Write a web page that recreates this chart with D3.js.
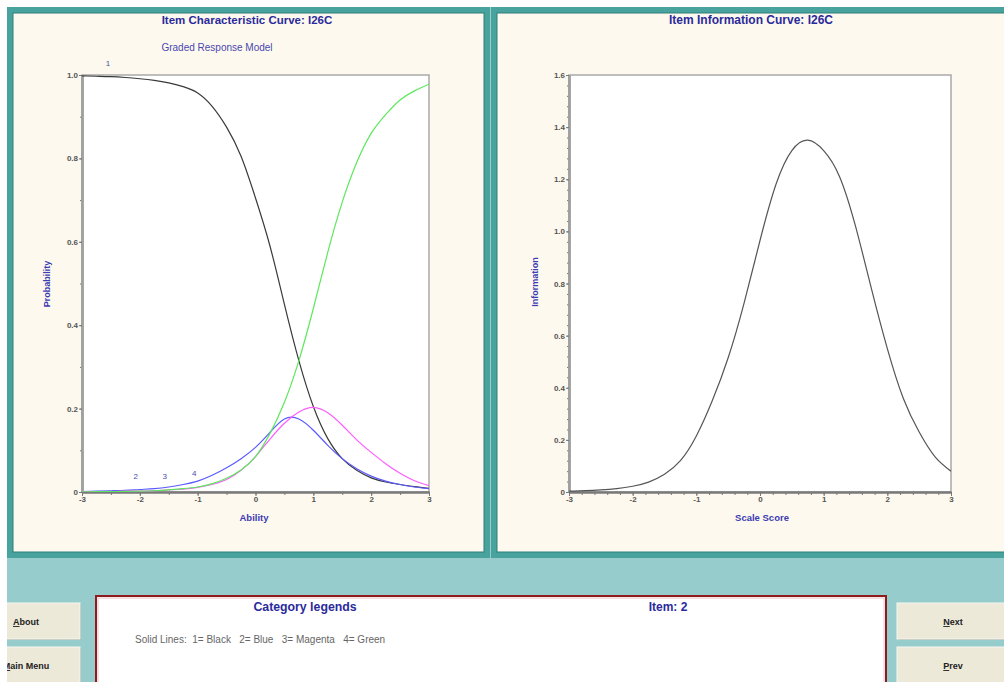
<!DOCTYPE html>
<html>
<head>
<meta charset="utf-8">
<script src="https://cdn.jsdelivr.net/npm/d3@7"></script>
<style>
body { margin: 0; background: #ffffff; overflow: hidden; }
svg { display: block; font-family: "Liberation Sans", Arial, sans-serif; }
</style>
</head>
<body>
<svg width="1004" height="682"></svg>
<script>
// values (ability / scale score grid)
const theta = [-3, -2.75, -2.5, -2.25, -2, -1.75, -1.5, -1.25, -1, -0.75, -0.5, -0.25, 0,
               0.25, 0.5, 0.75, 1, 1.25, 1.5, 1.75, 2, 2.25, 2.5, 2.75, 3];

// category response probabilities, 1..4
const cat1 = [0.998, 0.997, 0.996, 0.994, 0.991, 0.987, 0.981, 0.972, 0.957, 0.925, 0.875, 0.805, 0.705,
              0.59, 0.45, 0.315, 0.205, 0.128, 0.08, 0.052, 0.034, 0.024, 0.018, 0.013, 0.009];
const cat2 = [0.001, 0.002, 0.003, 0.004, 0.006, 0.008, 0.012, 0.018, 0.026, 0.04, 0.058, 0.08, 0.107,
              0.143, 0.175, 0.175, 0.148, 0.112, 0.08, 0.056, 0.038, 0.026, 0.018, 0.012, 0.008];
const cat3 = [0.0005, 0.001, 0.001, 0.002, 0.002, 0.003, 0.005, 0.007, 0.011, 0.018, 0.03, 0.052, 0.085,
              0.127, 0.165, 0.192, 0.203, 0.19, 0.16, 0.125, 0.095, 0.068, 0.045, 0.027, 0.015];
const cat4 = [0.0005, 0.0007, 0.001, 0.0015, 0.002, 0.003, 0.005, 0.008, 0.012, 0.02, 0.033, 0.053, 0.085,
              0.14, 0.215, 0.315, 0.44, 0.575, 0.695, 0.79, 0.86, 0.905, 0.94, 0.962, 0.978];

// item information
const information = [0.003, 0.005, 0.008, 0.013, 0.022, 0.038, 0.068, 0.12, 0.215, 0.35, 0.515, 0.725, 0.965,
                     1.18, 1.31, 1.35, 1.31, 1.21, 1.02, 0.78, 0.55, 0.36, 0.23, 0.135, 0.08];

const xTicks = [-3, -2, -1, 0, 1, 2, 3];
const probTicks = [0, 0.2, 0.4, 0.6, 0.8, 1.0];
const infoTicks = [0, 0.2, 0.4, 0.6, 0.8, 1.0, 1.2, 1.4, 1.6];
const categoryNames = ["1", "2", "3", "4"];
const legendLine = "Solid Lines:  1= Black   2= Blue   3= Magenta   4= Green";

const svg = d3.select('svg');
const width = +svg.attr('width');
const height = +svg.attr('height');

const navy = "#2a2a9c";
const catColors = ["#3a3a3a", "#5a5aff", "#ff5cff", "#5ce85c"];

// background: white margin, teal window
svg.append('rect').attr('x', 7).attr('y', 7).attr('width', width).attr('height', height)
   .attr('fill', '#96cdcc');

const panel = function (x0, x1) {
   svg.append('rect').attr('x', x0 + 3).attr('y', 10).attr('width', x1 - x0 - 6).attr('height', 545)
      .attr('fill', '#fef9ee').attr('stroke', '#48a29d').attr('stroke-width', 6);
   svg.append('rect').attr('x', x0 + 6).attr('y', 13).attr('width', x1 - x0 - 12).attr('height', 539)
      .attr('fill', 'none').attr('stroke', '#2c7f7a').attr('stroke-width', 1);
};
panel(7, 490);
panel(491, 1016);

const fmtY = d => d === 0 ? "0" : d3.format(".1f")(d);

// draws frame, axes and minor ticks of one plot
const frame = function (x, y, majorY, minorX, minorY) {
   const [l, r] = x.range();
   const [b, t] = y.range();
   svg.append('rect').attr('x', l).attr('y', t).attr('width', r - l).attr('height', b - t)
      .attr('fill', '#ffffff').attr('stroke', '#a9a9a9').attr('stroke-width', 1.5);

   const gy = svg.append('g').attr('transform', `translate(${l},0)`);
   gy.call(d3.axisLeft(y).tickValues(minorY).tickSize(2).tickSizeOuter(0).tickFormat(''));
   gy.append('g').call(d3.axisLeft(y).tickValues(majorY)
      .tickSize(3).tickSizeOuter(0).tickPadding(1).tickFormat(fmtY));
   gy.selectAll('.domain').attr('stroke', '#a0a0a0').attr('stroke-width', 2.5);

   const gx = svg.append('g').attr('transform', `translate(0,${b})`);
   gx.call(d3.axisBottom(x).tickValues(minorX).tickSize(3).tickSizeOuter(0).tickFormat(''));
   gx.append('g').call(d3.axisBottom(x).tickValues(xTicks).tickSize(4).tickSizeOuter(0)
      .tickPadding(0).tickFormat(d => String(d)));
   gx.selectAll('.domain').attr('stroke', '#7a7a7a').attr('stroke-width', 2);

   svg.selectAll('.tick line').attr('stroke', '#777');
   svg.selectAll('.tick text').attr('fill', '#555').attr('font-size', 8)
      .attr('font-weight', 'bold').attr('font-family', '"Liberation Sans", Arial, sans-serif');
};

// ---- left: item characteristic curve
const probX = d3.scaleLinear().domain([-3, 3]).range([82, 429]);
const probY = d3.scaleLinear().domain([0, 1]).range([492, 75]);
frame(probX, probY, probTicks, d3.range(-3, 3.01, 0.5), d3.range(0, 1.01, 0.1));

svg.append('clipPath').attr('id', 'clipL').append('rect')
   .attr('x', 82).attr('y', 74).attr('width', 347).attr('height', 418);

const probLine = d3.line()
   .x(d => probX(d[0])).y(d => probY(d[1]))
   .curve(d3.curveNatural);

[cat1, cat2, cat3, cat4].forEach((vals, i) => {
   svg.append('path')
      .datum(theta.map((t, j) => [t, vals[j]]))
      .attr('d', probLine)
      .attr('clip-path', 'url(#clipL)')
      .attr('fill', 'none')
      .attr('stroke', catColors[i])
      .attr('stroke-width', 1.2);
});

// category numbers
const labelAt = [[-2.55, 1.022], [-2.07, 0.031], [-1.57, 0.032], [-1.06, 0.039]];
svg.selectAll('text.cat')
   .data(categoryNames)
   .enter()
   .append('text')
   .attr('class', 'cat')
   .attr('x', (d, i) => probX(labelAt[i][0]))
   .attr('y', (d, i) => probY(labelAt[i][1]))
   .attr('text-anchor', 'middle')
   .attr('font-size', 8)
   .attr('fill', '#4a4aa8')
   .text(d => d);

svg.append('text').attr('x', 247).attr('y', 24).attr('text-anchor', 'middle')
   .attr('font-size', 11.5).attr('font-weight', 'bold').attr('fill', navy)
   .text('Item Characteristic Curve: I26C');
svg.append('text').attr('x', 217).attr('y', 51).attr('text-anchor', 'middle')
   .attr('font-size', 10).attr('fill', '#4848b0')
   .text('Graded Response Model');
svg.append('text').attr('x', 254).attr('y', 521).attr('text-anchor', 'middle')
   .attr('font-size', 9.5).attr('font-weight', 'bold').attr('fill', '#3c3cb4')
   .text('Ability');
svg.append('text').attr('transform', 'translate(50,284) rotate(-90)').attr('text-anchor', 'middle')
   .attr('font-size', 9).attr('font-weight', 'bold').attr('fill', '#3c3cb4')
   .text('Probability');

// ---- right: item information curve
const infoX = d3.scaleLinear().domain([-3, 3]).range([569, 951]);
const infoY = d3.scaleLinear().domain([0, 1.6]).range([492, 75]);
frame(infoX, infoY, infoTicks, d3.range(-3, 3.01, 0.2), d3.range(0, 1.601, 0.04));

svg.append('clipPath').attr('id', 'clipR').append('rect')
   .attr('x', 569).attr('y', 74).attr('width', 383).attr('height', 418);

svg.append('path')
   .datum(theta.map((t, j) => [t, information[j]]))
   .attr('d', d3.line().x(d => infoX(d[0])).y(d => infoY(d[1])).curve(d3.curveNatural))
   .attr('clip-path', 'url(#clipR)')
   .attr('fill', 'none')
   .attr('stroke', '#555')
   .attr('stroke-width', 1.2);

svg.append('text').attr('x', 751).attr('y', 24).attr('text-anchor', 'middle')
   .attr('font-size', 12).attr('font-weight', 'bold').attr('fill', navy)
   .text('Item Information Curve: I26C');
svg.append('text').attr('x', 762).attr('y', 521).attr('text-anchor', 'middle')
   .attr('font-size', 9.5).attr('font-weight', 'bold').attr('fill', '#3c3cb4')
   .text('Scale Score');
svg.append('text').attr('transform', 'translate(538,282) rotate(-90)').attr('text-anchor', 'middle')
   .attr('font-size', 9).attr('font-weight', 'bold').attr('fill', '#3c3cb4')
   .text('Information');

// ---- bottom: legend box and buttons
svg.append('rect').attr('x', 96).attr('y', 596).attr('width', 790).attr('height', 100)
   .attr('fill', '#ffffff').attr('stroke', '#8e1c1c').attr('stroke-width', 2);
svg.append('rect').attr('x', 98).attr('y', 598).attr('width', 786).attr('height', 100)
   .attr('fill', 'none').attr('stroke', '#ecc4c4').attr('stroke-width', 1);
svg.append('text').attr('x', 305).attr('y', 611).attr('text-anchor', 'middle')
   .attr('font-size', 12.3).attr('font-weight', 'bold').attr('fill', navy)
   .text('Category legends');
svg.append('text').attr('x', 668).attr('y', 611).attr('text-anchor', 'middle')
   .attr('font-size', 12).attr('font-weight', 'bold').attr('fill', navy)
   .text('Item: 2');
svg.append('text').attr('x', 135).attr('y', 643).attr('xml:space', 'preserve')
   .attr('font-size', 10).attr('fill', '#666')
   .text(legendLine);

svg.append('clipPath').attr('id', 'clipB').append('rect')
   .attr('x', 7).attr('y', 0).attr('width', width).attr('height', height);

const button = function (x, y, w, label) {
   const g = svg.append('g').attr('clip-path', 'url(#clipB)');
   g.append('rect').attr('x', x + 1).attr('y', y + 1).attr('width', w).attr('height', 36)
      .attr('fill', '#9aa89e');
   g.append('rect').attr('x', x).attr('y', y).attr('width', w).attr('height', 36)
      .attr('fill', '#ece9d8').attr('stroke', '#f8f7f0').attr('stroke-width', 1);
   const t = g.append('text').attr('x', x + w / 2).attr('y', y + 22).attr('text-anchor', 'middle')
      .attr('font-size', 9).attr('font-weight', 'bold').attr('fill', '#222');
   t.append('tspan').attr('text-decoration', 'underline').text(label[0]);
   t.append('tspan').text(label.slice(1));
};
button(-28, 603, 108, 'About');
button(-28, 647, 108, 'Main Menu');
button(897, 603, 112, 'Next');
button(897, 647, 112, 'Prev');
</script>
</body>
</html>
